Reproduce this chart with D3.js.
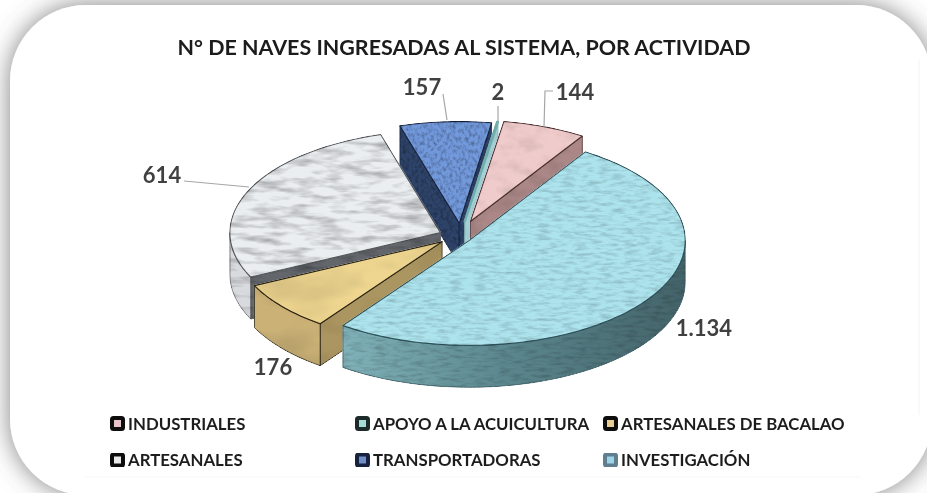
<!DOCTYPE html>
<html>
<head>
<meta charset="utf-8">
<script src="https://cdn.jsdelivr.net/npm/d3@7"></script>
<style>
  html, body { margin: 0; padding: 0; background: #fff; }
  svg { display: block; }
  text { font-family: Lato, "Open Sans", sans-serif; font-weight: 700; }
</style>
</head>
<body>
<svg id="canvas" width="927" height="493"></svg>
<script>
const titleText = 'N° DE NAVES INGRESADAS AL SISTEMA, POR ACTIVIDAD'
const categories = ['INDUSTRIALES', 'APOYO A LA ACUICULTURA', 'ARTESANALES DE BACALAO', 'ARTESANALES', 'TRANSPORTADORAS', 'INVESTIGACIÓN']
const values = [144, 2, 176, 614, 157, 1134]
// clockwise order round the pie, starting at the top right
const pieOrder = ['INVESTIGACIÓN', 'ARTESANALES DE BACALAO', 'ARTESANALES', 'TRANSPORTADORAS', 'APOYO A LA ACUICULTURA', 'INDUSTRIALES']
// back slices are painted first
const paintOrder = ['TRANSPORTADORAS', 'APOYO A LA ACUICULTURA', 'INDUSTRIALES', 'ARTESANALES', 'ARTESANALES DE BACALAO', 'INVESTIGACIÓN']

const width = 927, height = 493
const cx = 456, cy = 236, rx = 216, tilt = 0.486, depth = 42

const explode = {
  'INDUSTRIALES': 32, 'APOYO A LA ACUICULTURA': 30, 'ARTESANALES DE BACALAO': 18,
  'ARTESANALES': 17, 'TRANSPORTADORAS': 26, 'INVESTIGACIÓN': 16
}
const nudgeX = {
  'INDUSTRIALES': 3, 'APOYO A LA ACUICULTURA': 4, 'ARTESANALES DE BACALAO': 0,
  'ARTESANALES': 0, 'TRANSPORTADORAS': 5, 'INVESTIGACIÓN': 0
}
const shrink = {
  'INDUSTRIALES': 0.965, 'APOYO A LA ACUICULTURA': 0.965, 'ARTESANALES DE BACALAO': 0.965,
  'ARTESANALES': 0.975, 'TRANSPORTADORAS': 0.97, 'INVESTIGACIÓN': 1
}
const looks = {
  'INDUSTRIALES': { top: '#f0cbcb', wall: '#ae8a8a', cut: '#ab8787', line: '#4a2f2f', swatch: '#e8c3c9', border: '#111', freq: '0.05 0.08', k: 0.2 },
  'APOYO A LA ACUICULTURA': { top: '#9dd8d3', wall: '#7fb4b8', cut: '#a5cfd6', line: '#6fb0ae', swatch: '#a5dcd8', border: '#1c2a2a', freq: '0.1 0.1', k: 0.1 },
  'ARTESANALES DE BACALAO': { top: '#efd690', wall: '#cbb176', cut: '#ab9560', line: '#2a2210', swatch: '#e7cd92', border: '#111', freq: '0.015 0.03', k: 0.25 },
  'ARTESANALES': { top: '#ebeef0', wall: '#d8dade', cut: '#63676c', line: '#55585c', swatch: '#e9e9e9', border: '#111', freq: '0.035 0.14', k: 0.65 },
  'TRANSPORTADORAS': { top: '#7299dc', wall: '#2f466b', cut: '#2e4369', line: '#16233f', swatch: '#6f8fc8', border: '#16233f', freq: '0.32 0.24', k: 0.7 },
  'INVESTIGACIÓN': { top: '#ace3ed', wall: 'url(#investWall)', cut: '#4f767e', line: '#2c5058', swatch: '#9fd3e6', border: '#5f7f8f', freq: '0.08 0.32', k: 0.38 }
}
const labelAt = {
  'INDUSTRIALES': { x: 575, y: 92, leader: [[553, 91], [545, 91], [544, 127]] },
  'APOYO A LA ACUICULTURA': { x: 498, y: 92, leader: [[498, 106], [498, 122]] },
  'ARTESANALES DE BACALAO': { x: 273, y: 367, leader: [] },
  'ARTESANALES': { x: 162, y: 175, leader: [[184, 181], [249, 187]] },
  'TRANSPORTADORAS': { x: 422, y: 87, leader: [[443, 94], [447, 120]] },
  'INVESTIGACIÓN': { x: 704, y: 328, leader: [] }
}
const legendCols = [110, 355, 603]
const legendRows = [423.5, 460]

const fmt = d3.formatLocale({ decimal: ',', thousands: '.', grouping: [3], currency: ['', ''] }).format(',')
const canvas = d3.select('#canvas')
const defs = canvas.append('defs')

// card shadow
const shadow = defs.append('filter').attr('id', 'cardShadow')
  .attr('filterUnits', 'userSpaceOnUse').attr('x', -60).attr('y', -60).attr('width', width + 120).attr('height', height + 120)
shadow.append('feDropShadow').attr('dx', 0).attr('dy', 0).attr('stdDeviation', 13).attr('flood-color', '#555').attr('flood-opacity', 0.75)

const grad = defs.append('linearGradient').attr('id', 'investWall')
grad.append('stop').attr('offset', '0%').attr('stop-color', '#80b2b9')
grad.append('stop').attr('offset', '45%').attr('stop-color', '#5d8990')
grad.append('stop').attr('offset', '100%').attr('stop-color', '#436369')

// one noise texture per slice, multiplied over the flat colour
categories.forEach((c, i) => {
  const k = looks[c].k
  const off = 1 + k * 0.42
  const f = defs.append('filter').attr('id', 'tex' + i)
    .attr('filterUnits', 'userSpaceOnUse').attr('x', 0).attr('y', 0).attr('width', width).attr('height', height)
    .attr('color-interpolation-filters', 'sRGB')
  f.append('feTurbulence').attr('type', 'fractalNoise').attr('baseFrequency', looks[c].freq)
    .attr('numOctaves', 3).attr('seed', i + 3).attr('result', 'n')
  f.append('feColorMatrix').attr('in', 'n').attr('type', 'matrix')
    .attr('values', `${-k} 0 0 0 ${off} ${-k} 0 0 0 ${off} ${-k} 0 0 0 ${off} 0 0 0 0 1`)
    .attr('result', 'grain')
  f.append('feBlend').attr('in', 'SourceGraphic').attr('in2', 'grain').attr('mode', 'multiply').attr('result', 'mixed')
  f.append('feComposite').attr('in', 'mixed').attr('in2', 'SourceAlpha').attr('operator', 'in').attr('result', 'cut')
  f.append('feGaussianBlur').attr('in', 'cut').attr('stdDeviation', 0.5)
})
const soft = defs.append('filter').attr('id', 'soft')
soft.append('feGaussianBlur').attr('stdDeviation', 0.4)

canvas.append('rect').attr('width', width).attr('height', height).attr('fill', '#fff')
canvas.append('rect').attr('x', 10).attr('y', 5).attr('width', 922).attr('height', 490).attr('rx', 76).attr('ry', 76)
  .attr('fill', '#fff').attr('filter', 'url(#cardShadow)')
// faint frame of the pasted chart
canvas.append('path').attr('d', d3.line()([[919, 60], [919, 415]])).attr('stroke', '#f4f4f4').attr('fill', 'none')
canvas.append('path').attr('d', d3.line()([[85, 477], [860, 477]])).attr('stroke', '#f7f7f7').attr('fill', 'none')

canvas.append('text').attr('x', 464).attr('y', 55).attr('text-anchor', 'middle')
  .attr('font-size', 21).attr('fill', '#1a1a1a').attr('filter', 'url(#soft)')
  .attr('textLength', 573).attr('lengthAdjust', 'spacingAndGlyphs').text(titleText)

// pie angles
const table = categories.map((c, i) => ({ name: c, value: values[i], idx: i }))
const pie = d3.pie().value(d => d.value)
  .sort((a, b) => pieOrder.indexOf(a.name) - pieOrder.indexOf(b.name))
  .startAngle(32.5 * Math.PI / 180)
  .endAngle(32.5 * Math.PI / 180 + 2 * Math.PI)
const arcs = pie(table)

const apexOf = d => {
  const mid = (d.startAngle + d.endAngle) / 2
  const e = explode[d.data.name]
  return [cx + nudgeX[d.data.name] + e * Math.sin(mid), cy - e * tilt * Math.cos(mid)]
}
const rimPoint = (d, a, dz) => {
  const p = apexOf(d), r = rx * shrink[d.data.name]
  return [p[0] + r * Math.sin(a), p[1] - r * tilt * Math.cos(a) + dz]
}
const sweep = (a0, a1) => {
  const n = Math.max(2, Math.ceil((a1 - a0) / 0.02))
  return d3.range(n + 1).map(i => a0 + (a1 - a0) * i / n)
}
const outline = d3.line()

const pieG = canvas.append('g')
paintOrder.forEach(name => {
  const d = arcs.find(a => a.data.name === name)
  const look = looks[name]
  const g = pieG.append('g').attr('filter', `url(#tex${d.data.idx})`)
    .attr('stroke-linejoin', 'round')
  const apex = apexOf(d)
  const low = [apex[0], apex[1] + depth]

  // the two cut faces, only when they turn to the viewer
  const cutFace = a => {
    g.append('path')
      .attr('d', outline([apex, rimPoint(d, a, 0), rimPoint(d, a, depth), low]) + 'Z')
      .attr('fill', look.cut).attr('stroke', look.line).attr('stroke-width', 0.9)
  }
  if (Math.sin(d.startAngle) < 0) cutFace(d.startAngle)
  if (Math.sin(d.endAngle) > 0) cutFace(d.endAngle)

  // outer rim
  const a0 = Math.max(d.startAngle, Math.PI / 2), a1 = Math.min(d.endAngle, 3 * Math.PI / 2)
  if (a1 > a0) {
    const run = sweep(a0, a1)
    g.append('path')
      .attr('d', outline(run.map(a => rimPoint(d, a, 0)).concat(run.slice().reverse().map(a => rimPoint(d, a, depth)))) + 'Z')
      .attr('fill', look.wall).attr('stroke', look.line).attr('stroke-width', 0.9)
  }

  // top
  g.append('path')
    .attr('d', outline([apex].concat(sweep(d.startAngle, d.endAngle).map(a => rimPoint(d, a, 0)))) + 'Z')
    .attr('fill', look.top).attr('stroke', look.line)
    .attr('stroke-width', name === 'APOYO A LA ACUICULTURA' ? 2.2 : 1.1)
})

// value labels with leader lines
categories.forEach((c, i) => {
  const at = labelAt[c]
  if (at.leader.length) {
    canvas.append('path').attr('d', outline(at.leader)).attr('fill', 'none')
      .attr('stroke', '#a6a6a6').attr('stroke-width', 1.2)
  }
  canvas.append('text').attr('x', at.x).attr('y', at.y).attr('dy', '0.36em').attr('text-anchor', 'middle')
    .attr('font-size', 22).attr('fill', '#404040').attr('filter', 'url(#soft)')
    .text(fmt(values[i]))
})

// legend, three columns by two rows
const legend = canvas.append('g')
categories.forEach((c, i) => {
  const x = legendCols[i % 3], y = legendRows[Math.floor(i / 3)]
  const look = looks[c]
  legend.append('rect').attr('x', x + 2).attr('y', y - 5.5).attr('width', 11).attr('height', 11).attr('rx', 1.5)
    .attr('fill', look.swatch).attr('stroke', look.border).attr('stroke-width', 4).attr('filter', 'url(#soft)')
  legend.append('text').attr('x', x + 18).attr('y', y).attr('dy', '0.36em')
    .attr('font-size', 16.8).attr('fill', '#1f1f1f').attr('filter', 'url(#soft)').text(c)
})
</script>
</body>
</html>
